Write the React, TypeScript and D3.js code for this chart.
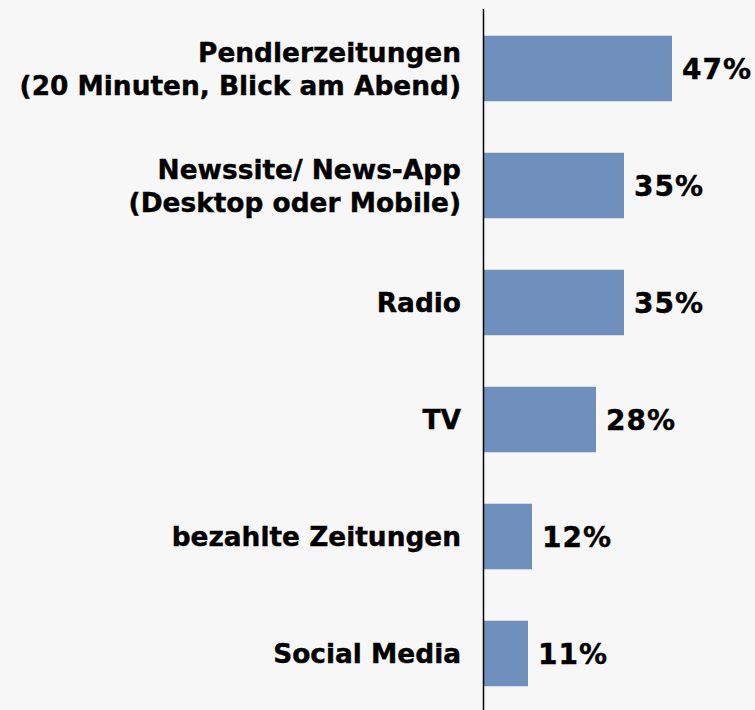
import React from "react";
import * as d3 from "d3";

const categories: string[][] = [
  ["Pendlerzeitungen", "(20 Minuten, Blick am Abend)"],
  ["Newssite/ News-App", "(Desktop oder Mobile)"],
  ["Radio"],
  ["TV"],
  ["bezahlte Zeitungen"],
  ["Social Media"],
];
const values: number[] = [47, 35, 35, 28, 12, 11];

const W = 755;
const H = 710;
const AXIS_X = 484;
const FONT = "'DejaVu Sans', Verdana, sans-serif";

export default function App() {
  const ids = categories.map((_, i) => String(i));
  const y = d3.scaleBand<string>().domain(ids).range([10, 712]).paddingInner(0.44).paddingOuter(0.22);
  const x = d3.scaleLinear().domain([0, 100]).range([AXIS_X, AXIS_X + 400]);
  const fs = 26.4;
  const lh = 33;

  return (
    <svg
      width={W}
      height={H}
      style={{ position: "absolute", left: 0, top: 0, display: "block" }}
      fontFamily={FONT}
      fontWeight="bold"
    >
      <rect x={0} y={0} width={W} height={H} fill="#f7f7f7" />
      {values.map((v, i) => {
        const y0 = y(ids[i])!;
        const cy = y0 + y.bandwidth() / 2;
        const lines = categories[i];
        const startY = cy - ((lines.length - 1) * lh) / 2;
        return (
          <g key={i}>
            <rect x={x(0)} y={y0} width={x(v) - x(0)} height={y.bandwidth()} fill="#6f8fbc" />
            <text
              x={x(v) + 10}
              y={cy}
              dy="0.36em"
              fontSize={28}
              letterSpacing={1}
              fill="#000"
              stroke="#000"
              strokeWidth={0.4}
            >
              {v}%
            </text>
            <text textAnchor="end" fontSize={fs} fill="#000" stroke="#000" strokeWidth={0.4}>
              {lines.map((l, j) => (
                <tspan key={j} x={461} y={startY + j * lh} dy="0.36em">
                  {l}
                </tspan>
              ))}
            </text>
          </g>
        );
      })}
      <line x1={AXIS_X - 0.5} x2={AXIS_X - 0.5} y1={9} y2={H} stroke="#000" strokeWidth={1.5} />
    </svg>
  );
}
